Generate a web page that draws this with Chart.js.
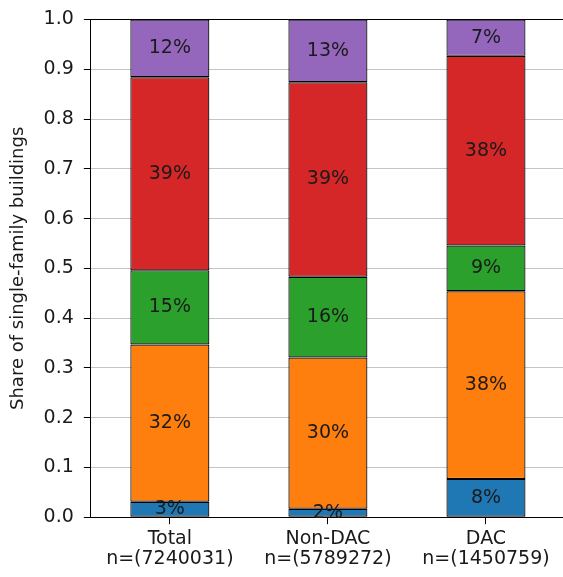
<!DOCTYPE html>
<html>
<head>
<meta charset="utf-8">
<script src="https://cdn.jsdelivr.net/npm/chart.js@4"></script>
<style>
    html, body { margin: 0; padding: 0; background: #fff; overflow: hidden; }
    #wrap { width: 565px; height: 577px; position: relative; }
</style>
</head>
<body>
<div id="wrap"><canvas id="share-chart"></canvas></div>
<script>
// Categories (two-line tick labels)
const categories = [
    ['Total', 'n=(7240031)'],
    ['Non-DAC', 'n=(5789272)'],
    ['DAC', 'n=(1450759)']
];

// Stacked shares, bottom to top
const blueShare   = [0.031, 0.017, 0.077];
const orangeShare = [0.316, 0.304, 0.377];
const greenShare  = [0.149, 0.162, 0.092];
const redShare    = [0.388, 0.391, 0.381];
const purpleShare = [0.116, 0.126, 0.073];

const yMin = 0;
const yMax = 1.0;
const yStep = 0.1;
const yTitle = 'Share of single-family buildings';

const FONT = "'DejaVu Sans', sans-serif";

const makeSet = (data, color) => ({
    data: data,
    backgroundColor: color,
    borderColor: '#000',
    borderWidth: 1.2,
    borderSkipped: false,
    barPercentage: 0.5,
    categoryPercentage: 1.0
});

// Draws the percentage in the middle of every segment
const segmentLabels = {
    id: 'segmentLabels',
    afterDatasetsDraw(chart) {
        const ctx = chart.ctx;
        ctx.save();
        ctx.font = '19px ' + FONT;
        ctx.fillStyle = '#1a1a1a';
        ctx.textAlign = 'center';
        ctx.textBaseline = 'middle';
        chart.data.datasets.forEach((ds, i) => {
            chart.getDatasetMeta(i).data.forEach((bar, j) => {
                const txt = Math.round(ds.data[j] * 100) + '%';
                ctx.fillText(txt, bar.x, (bar.y + bar.base) / 2);
            });
        });
        ctx.restore();
    }
};

const shareChart = new Chart(document.getElementById('share-chart').getContext('2d'), {
    type: 'bar',
    data: {
        labels: categories,
        datasets: [
            makeSet(blueShare, '#1f77b4'),
            makeSet(orangeShare, '#ff7f0e'),
            makeSet(greenShare, '#2ca02c'),
            makeSet(redShare, '#d62728'),
            makeSet(purpleShare, '#9467bd')
        ]
    },
    options: {
        responsive: true,
        maintainAspectRatio: false,
        animation: false,
        layout: {
            padding: { left: 6, top: -2, right: 0, bottom: 3 }
        },
        plugins: {
            legend: { display: false },
            tooltip: { enabled: false }
        },
        scales: {
            x: {
                stacked: true,
                border: { display: true, color: '#000', width: 1 },
                grid: {
                    offset: false,
                    drawOnChartArea: false,
                    drawTicks: true,
                    tickLength: 7,
                    color: '#000'
                },
                ticks: {
                    padding: 4,
                    color: '#1a1a1a',
                    maxRotation: 0,
                    font: { size: 19, family: FONT, lineHeight: 1.1 }
                }
            },
            y: {
                stacked: true,
                min: yMin,
                max: yMax,
                border: { display: true, color: '#000', width: 1 },
                grid: {
                    color: (c) => (c.tick && c.tick.value >= yMax - 1e-9) ? '#000' : '#c4c4c4',
                    lineWidth: 1,
                    tickLength: 7,
                    tickColor: '#000'
                },
                ticks: {
                    stepSize: yStep,
                    padding: 10,
                    color: '#1a1a1a',
                    font: { size: 19, family: FONT, lineHeight: 1.0 },
                    callback: (v) => Number(v).toFixed(1)
                },
                title: {
                    display: true,
                    text: yTitle,
                    color: '#1a1a1a',
                    padding: { top: 2, bottom: 4 },
                    font: { size: 18, family: FONT }
                }
            }
        }
    },
    plugins: [segmentLabels]
});
</script>
</body>
</html>
